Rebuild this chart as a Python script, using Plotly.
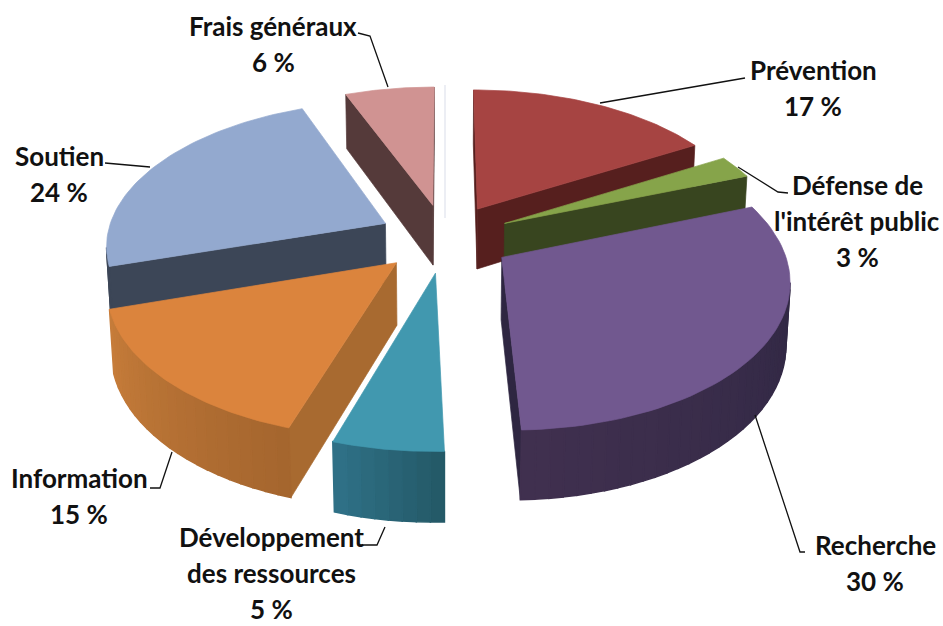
import math
import plotly.graph_objects as go

categories = ["Prévention", "Défense de|l'intérêt public", "Recherche", "Développement|des ressources", "Information", "Soutien", "Frais généraux"]
values = [16.6, 2.6, 30.3, 5.4, 15.3, 23.8, 6.0]
top_colors = ["#A64442", "#86A44A", "#71588F", "#4198AF", "#DB843D", "#93A9CF", "#D09392"]
# wall shade at start and at end of the arc, and shade of the cut faces
arc_start = ["#5A2120", "#3A4720", "#2B2540", "#245A68", "#A5662E", "#3C4657", "#553A3A"]
arc_end = ["#5A2120", "#3A4720", "#40304F", "#2F7086", "#C67C3A", "#3C4657", "#553A3A"]
cut_colors = ["#561F1E", "#38451F", "#2E2641", "#245A68", "#A86A30", "#3C4657", "#553A3A"]
label_x = [813, 857, 875, 271, 79, 59, 273]
label_y = [70, 185, 545, 537, 478, 156, 26]
LINE_PITCH = 36
leaders = [
    [(745, 78), (600, 103)],
    [(788, 193), (778, 192), (738, 167)],
    [(805, 552), (800, 552), (755, 415)],
    [(385, 527), (377, 545), (362, 545)],
    [(150, 488), (160, 488), (172, 452)],
    [(105, 163), (150, 167)],
    [(358, 33), (370, 36), (388, 87)],
]

# view of the tilted disc, in page pixels
CX, CY, R, B, H, P, Q, EXPLODE = 445, 238, 279, 143, 62, 0.138, 0.012, 0.24
EYE_V = 1 / P


def project(u, v, z=0):
    k = 1 / (1 - P * v + Q * z)
    return CX + R * u * k, CY + (B * v + H * z) * k


def face(points, color, name=None, lw=0.7):
    xs, ys = zip(*[project(*p) for p in points])
    return go.Scatter(x=list(xs) + [xs[0]], y=list(ys) + [ys[0]], mode="lines", fill="toself",
                      fillcolor=color, line=dict(color=color, width=lw), hoverinfo="text" if name else "skip",
                      text=name, showlegend=False)


def mix(a, b, t):
    ca = [int(a[i:i + 2], 16) for i in (1, 3, 5)]
    cb = [int(b[i:i + 2], 16) for i in (1, 3, 5)]
    return "#" + "".join(f"{round(x + (y - x) * t):02X}" for x, y in zip(ca, cb))


fig = go.Figure()
wedges = []
cum = 0
total = sum(values)
for i, val in enumerate(values):
    a0 = cum / total * 2 * math.pi
    cum += val
    a1 = cum / total * 2 * math.pi
    mid = (a0 + a1) / 2
    ox, oy = EXPLODE * math.sin(mid), -EXPLODE * math.cos(mid)
    wedges.append((oy, i, a0, a1, ox, oy))

for _, i, a0, a1, ox, oy in sorted(wedges):
    n = max(8, int((a1 - a0) / math.radians(2.5)))
    angs = [a0 + (a1 - a0) * j / n for j in range(n + 1)]
    fine = [a0 + (a1 - a0) * j / 60 for j in range(61)]
    rim = [(ox + math.sin(a), oy - math.cos(a)) for a in angs]
    fine_rim = [(ox + math.sin(a), oy - math.cos(a)) for a in fine]
    # cut faces
    for pt, ang, sign in ((rim[0], a0, -1), (rim[-1], a1, 1)):
        nx, ny = sign * math.cos(ang), sign * math.sin(ang)
        if nx * (0 - ox) + ny * (EYE_V - oy) > 0:
            fig.add_trace(face([(ox, oy, 0), (*pt, 0), (*pt, 1), (ox, oy, 1)], cut_colors[i]))
    # outer wall
    for j in range(n):
        am = (angs[j] + angs[j + 1]) / 2
        nx, ny = math.sin(am), -math.cos(am)
        px, py = ox + nx, oy + ny
        if nx * (0 - px) + ny * (EYE_V - py) > 0:
            sub = [angs[j] + (angs[j + 1] - angs[j]) * s / 4 for s in range(5)]
            arc = [(ox + math.sin(a), oy - math.cos(a)) for a in sub]
            fig.add_trace(face([(*p, 0) for p in arc] + [(*p, 1) for p in reversed(arc)],
                               mix(arc_start[i], arc_end[i], j / max(n - 1, 1)), lw=1.5))
    fig.add_trace(face([(ox, oy, 0)] + [(*p, 0) for p in fine_rim], top_colors[i],
                       f"{categories[i].replace('|', ' ')}: {round(values[i])} %"))

for pts in leaders:
    fig.add_trace(go.Scatter(x=[p[0] for p in pts], y=[p[1] for p in pts], mode="lines",
                             line=dict(color="#111111", width=1.3), hoverinfo="skip", showlegend=False))

fig.add_shape(type="line", x0=445, x1=445, y0=85, y1=218, line=dict(color="#E6E8F0", width=1.5))

for name, val, x, y in zip(categories, values, label_x, label_y):
    for k, line in enumerate(name.split("|") + [f"{round(val)} %"]):
        fig.add_annotation(x=x, y=y + k * LINE_PITCH, text=f"<b>{line}</b>", showarrow=False,
                           xanchor="center", yanchor="middle",
                           font=dict(family="Lato", size=26, color="#111111"))

fig.update_xaxes(range=[0, 943], visible=False, fixedrange=True)
fig.update_yaxes(range=[626, 0], visible=False, fixedrange=True)
fig.update_layout(width=943, height=626, margin=dict(l=0, r=0, t=0, b=0), paper_bgcolor="white", plot_bgcolor="white",
                  showlegend=False)
fig.write_html("out.html", config=dict(displayModeBar=False),
               post_script="document.body.style.margin='0';document.body.style.overflow='hidden';")
